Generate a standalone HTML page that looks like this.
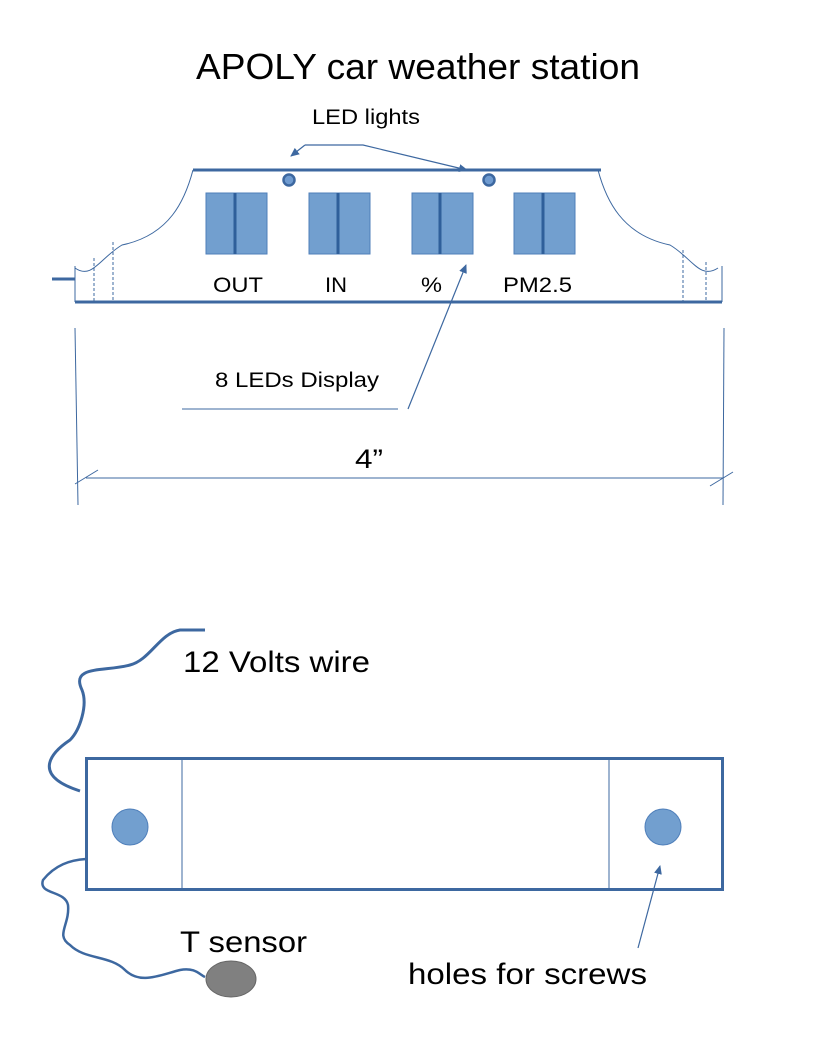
<!DOCTYPE html>
<html><head><meta charset="utf-8"><style>
html,body{margin:0;padding:0;background:#fff;}
svg{display:block;}
text{font-family:"Liberation Sans",sans-serif;fill:#000;}
</style></head><body>
<svg width="816" height="1056" viewBox="0 0 816 1056" xmlns="http://www.w3.org/2000/svg">
<defs>
<marker id="ah" markerWidth="10" markerHeight="10" refX="8" refY="5" orient="auto" markerUnits="userSpaceOnUse">
<path d="M0,1 L9,5 L0,9 z" fill="#3d68a0"/></marker>
</defs>
<text x="196" y="79" font-size="36" textLength="444" lengthAdjust="spacingAndGlyphs">APOLY car weather station</text>
<text x="312" y="124" font-size="21" textLength="108" lengthAdjust="spacingAndGlyphs">LED lights</text>
<g stroke="#3d68a0" fill="none" stroke-width="1.2">
<polyline points="305,145 291,156" marker-end="url(#ah)"/>
<polyline points="305,145 363,145 467,170" marker-end="url(#ah)"/>
</g>
<line x1="193" y1="170" x2="601" y2="170" stroke="#3d68a0" stroke-width="3"/>
<path d="M193,170 C185,200 170,235 122,245 C100,258 92,280 75,268" stroke="#3d68a0" fill="none" stroke-width="1"/>
<path d="M598,170 C606,200 622,235 670,245 C692,258 700,280 718,268" stroke="#3d68a0" fill="none" stroke-width="1"/>
<line x1="75" y1="266" x2="75" y2="302" stroke="#3d68a0" stroke-width="1"/>
<line x1="722" y1="266" x2="722" y2="302" stroke="#3d68a0" stroke-width="1"/>
<line x1="52" y1="279" x2="75" y2="279" stroke="#3d68a0" stroke-width="3"/>
<g stroke="#3d68a0" stroke-width="1" stroke-dasharray="3,2">
<line x1="94" y1="258" x2="94" y2="302"/><line x1="113" y1="242" x2="113" y2="302"/>
<line x1="683" y1="250" x2="683" y2="302"/><line x1="706" y1="262" x2="706" y2="302"/>
</g>
<line x1="75" y1="302" x2="722" y2="302" stroke="#3d68a0" stroke-width="3"/>
<circle cx="289" cy="180" r="5.5" fill="#6f9bd0" stroke="#3d68a0" stroke-width="2.5"/>
<circle cx="489" cy="180" r="5.5" fill="#6f9bd0" stroke="#3d68a0" stroke-width="2.5"/>
<g fill="#729fcf" stroke="#4f7fba" stroke-width="1">
<rect x="206" y="193" width="61" height="61"/><rect x="309" y="193" width="61" height="61"/>
<rect x="412" y="193" width="61" height="61"/><rect x="514" y="193" width="61" height="61"/>
</g>
<g stroke="#2f5f9a" stroke-width="3">
<line x1="235" y1="193" x2="235" y2="254"/><line x1="338" y1="193" x2="338" y2="254"/>
<line x1="440" y1="193" x2="440" y2="254"/><line x1="543" y1="193" x2="543" y2="254"/>
</g>
<g font-size="21">
<text x="213" y="292" textLength="50" lengthAdjust="spacingAndGlyphs">OUT</text>
<text x="325" y="292" textLength="22" lengthAdjust="spacingAndGlyphs">IN</text>
<text x="421" y="292" textLength="21" lengthAdjust="spacingAndGlyphs">%</text>
<text x="503" y="292" textLength="69" lengthAdjust="spacingAndGlyphs">PM2.5</text>
</g>
<text x="215" y="387" font-size="21" textLength="164" lengthAdjust="spacingAndGlyphs">8 LEDs Display</text>
<line x1="182" y1="409" x2="398" y2="409" stroke="#3d68a0" stroke-width="1"/>
<line x1="408" y1="409" x2="466" y2="265" stroke="#3d68a0" stroke-width="1.2" marker-end="url(#ah)"/>
<g stroke="#3d68a0" stroke-width="1">
<line x1="75" y1="328" x2="78" y2="505"/><line x1="724" y1="328" x2="723" y2="505"/>
<line x1="86" y1="478" x2="723" y2="478"/>
<line x1="75" y1="484" x2="98" y2="470"/><line x1="710" y1="486" x2="733" y2="472"/>
</g>
<text x="355" y="468" font-size="27" textLength="28" lengthAdjust="spacingAndGlyphs">4”</text>
<path d="M205,630 L180,630 C160,633 150,660 130,665 C105,672 70,665 82,690 C88,705 80,730 70,740 C52,752 30,775 80,791" stroke="#3d68a0" stroke-width="3" fill="none"/>
<text x="183" y="672" font-size="30" textLength="187" lengthAdjust="spacingAndGlyphs">12 Volts wire</text>
<rect x="86.5" y="758.5" width="636" height="131" fill="none" stroke="#3d68a0" stroke-width="3"/>
<line x1="182" y1="758" x2="182" y2="889" stroke="#3d68a0" stroke-width="1"/>
<line x1="609" y1="758" x2="609" y2="889" stroke="#3d68a0" stroke-width="1"/>
<circle cx="130" cy="827" r="18" fill="#729fcf" stroke="#4f7fba" stroke-width="1"/>
<circle cx="663" cy="827" r="18" fill="#729fcf" stroke="#4f7fba" stroke-width="1"/>
<path d="M86,859 C70,860 55,865 43,880 C38,895 65,890 68,905 C70,925 55,935 70,945 C85,960 110,955 125,970 C140,985 160,975 180,970 C195,967 200,975 205,977" stroke="#3d68a0" stroke-width="2.5" fill="none"/>
<text x="180" y="952" font-size="30" textLength="127" lengthAdjust="spacingAndGlyphs">T sensor</text>
<ellipse cx="231" cy="979" rx="25" ry="18" fill="#808080" stroke="#666" stroke-width="1"/>
<text x="408" y="984" font-size="30" textLength="239" lengthAdjust="spacingAndGlyphs">holes for screws</text>
<line x1="638" y1="948" x2="660" y2="866" stroke="#3d68a0" stroke-width="1.2" marker-end="url(#ah)"/>
</svg>
</body></html>
